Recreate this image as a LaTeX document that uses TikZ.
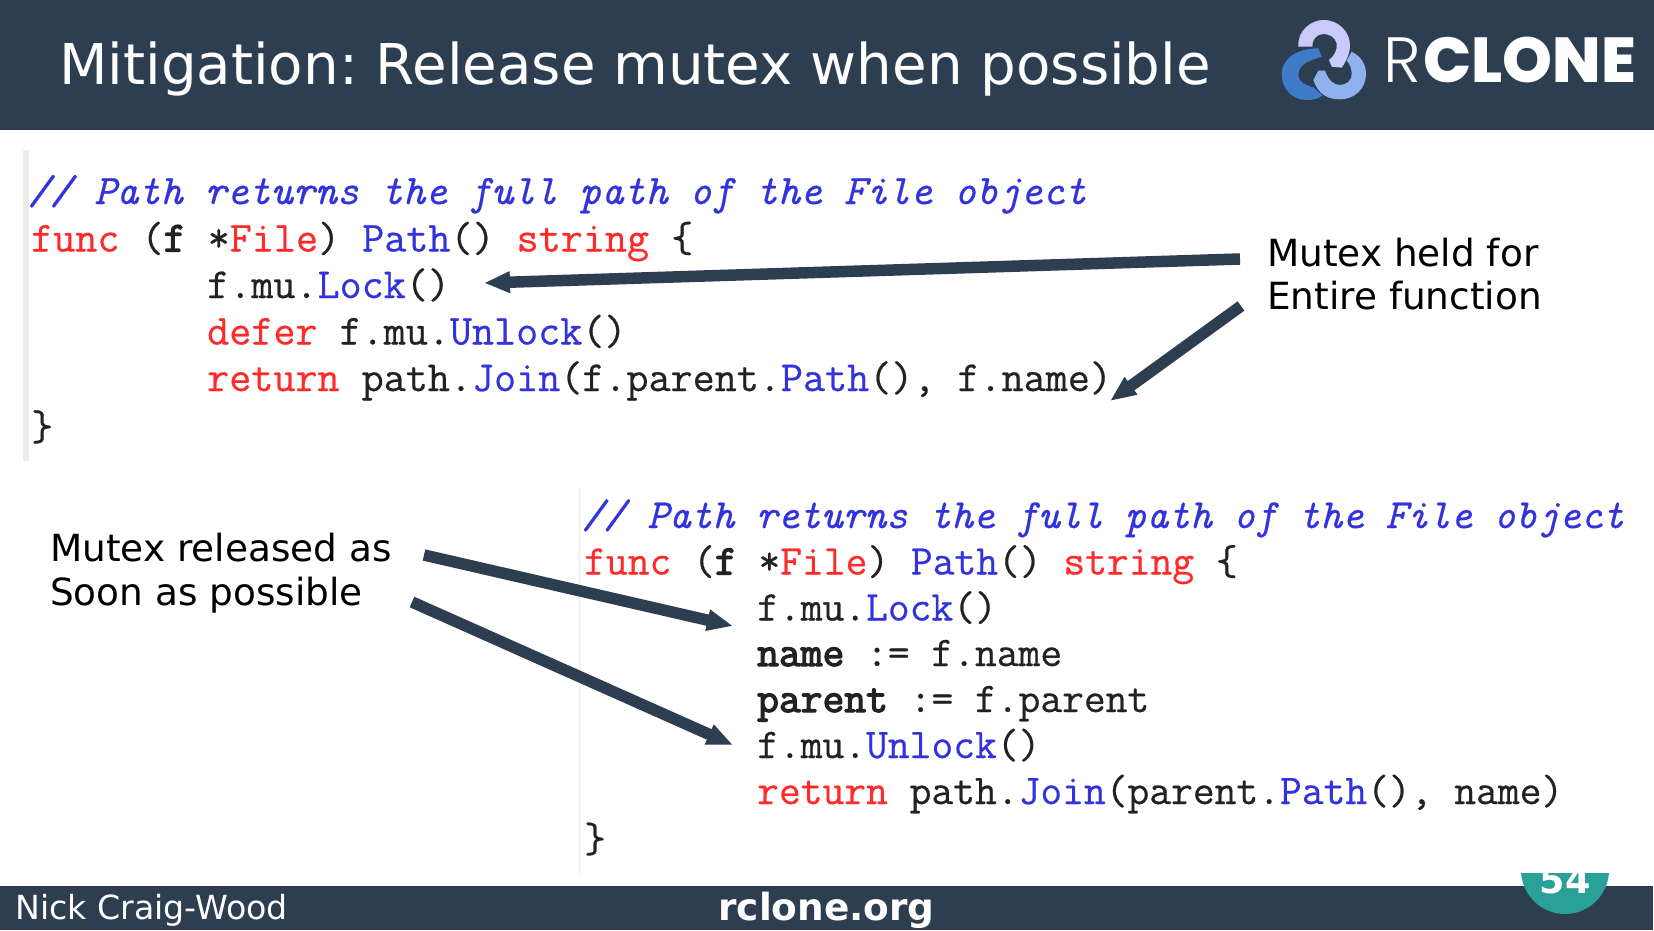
\documentclass[tikz,border=0pt]{standalone}
\usepackage{fontspec}
\usetikzlibrary{arrows.meta}
\frenchspacing
\setmainfont{DejaVu Sans}
\newfontfamily\logolight{Poppins Light}
\newfontfamily\logoheavy{Poppins ExtraBold}
\newfontfamily\codefont{Latin Modern Mono}[UprightFeatures={FakeBold=0.5},BoldFont={Latin Modern Mono},BoldFeatures={FakeBold=3},ItalicFeatures={FakeBold=0.5}]
\definecolor{barcol}{HTML}{2C3E50}
\definecolor{tealcol}{HTML}{2AA198}
\definecolor{kwred}{HTML}{FF2A2A}
\definecolor{kwblue}{HTML}{3333DD}
\definecolor{codeink}{HTML}{222222}
\definecolor{gutter}{HTML}{ECECEC}
\definecolor{logoa}{HTML}{C9CAF8}
\definecolor{logob}{HTML}{3F7BC8}
\definecolor{logoc}{HTML}{8FB2EE}
\tikzset{
 bar/.style={fill=barcol,draw=none},
 lbl/.style={anchor=base west,inner sep=0pt,font=\fontsize{37.4}{37.4}\selectfont,text=black},
 codeA/.style={anchor=base west,inner sep=0pt,font=\codefont\fontsize{42.85}{42.85}\selectfont,text=codeink},
 codeB/.style={anchor=base west,inner sep=0pt,font=\codefont\fontsize{42.3}{42.3}\selectfont,text=codeink},
 noteA/.style={anchor=base west,inner sep=0pt,font=\codefont\itshape\fontsize{42}{42}\selectfont,text=kwblue},
 noteB/.style={anchor=base west,inner sep=0pt,font=\codefont\itshape\fontsize{41.35}{41.35}\selectfont,text=kwblue},
 callout/.style={draw=barcol,line width=11.5pt,-{Triangle[length=26pt,width=20pt]}},
}
\newcommand{\kr}[1]{\textcolor{kwred}{#1}}
\newcommand{\kb}[1]{\textcolor{kwblue}{#1}}
\begin{document}
\begin{tikzpicture}[x=1pt,y=-1pt]
\useasboundingbox (0,0) rectangle (1654,931);
\fill[white] (0,0) rectangle (1654,931);
\fill[bar] (0,0) rectangle (1654,130);
\fill[bar] (0,886) rectangle (1653,930);
\node[anchor=base west,inner sep=0pt,text=white,font=\fontsize{56.25}{56.25}\selectfont] (title) at (59,85) {Mitigation: Release mutex when possible};
% logo
\begin{scope}[shift={(1240,0)},x=0.3333pt,y=-0.3333pt]
\fill[logoa] (175,140) .. controls (172,90) and (215,60) .. (250,60) .. controls (300,60) and (330,100) .. (330,135) .. controls (330,160) and (318,185) .. (305,203) -- (275,200) -- (267,180) .. controls (285,165) and (292,150) .. (290,130) .. controls (285,110) and (265,102) .. (250,102) .. controls (230,102) and (215,120) .. (217,140) -- cycle;
\fill[logob] (235,145) -- (245,170) .. controls (215,180) and (175,190) .. (175,225) .. controls (175,245) and (195,255) .. (220,262) -- (248,287) .. controls (230,300) and (210,300) .. (200,300) .. controls (155,300) and (125,265) .. (125,222) .. controls (125,180) and (165,145) .. (235,145) -- cycle;
\fill[logoc] (335,155) .. controls (365,170) and (378,195) .. (378,222) .. controls (378,265) and (345,298) .. (300,298) .. controls (265,298) and (235,285) .. (220,240) -- (235,212) -- (255,212) .. controls (265,240) and (280,255) .. (300,255) .. controls (320,255) and (337,240) .. (335,220) .. controls (335,205) and (328,190) .. (320,182) -- cycle;
\end{scope}
\node[anchor=base west,inner sep=0pt,text=white,font=\logolight\fontsize{64}{64}\selectfont] (logor) at (1383,82.5) {R};
\node[anchor=base west,inner sep=0pt,text=white,font=\logoheavy\fontsize{63.5}{63.5}\selectfont] (logoc) at (1423,82.5) {CLONE};
% gutters
\fill[gutter] (23,150) rectangle (29,461);
\fill[gutter!60] (578,488) rectangle (581,873);
% code 1
\node[noteA] (a1) at (28,204) {// Path returns the full path of the File object};
\node[codeA] (a2) at (31,251.5) {\kr{func} (\textbf{f} *\kr{File}) \kb{Path}() \kr{string} \{};
\node[codeA] (a3) at (207,298) {f.mu.\kb{Lock}()};
\node[codeA] (a4) at (207,344.5) {\kr{defer} f.mu.\kb{Unlock}()};
\node[codeA] (a5) at (207,391) {\kr{return} path.\kb{Join}(f.parent.\kb{Path}(), f.name)};
\node[codeA] (a6) at (31,440) {\}};
% code 2
\node[noteB] (b1) at (582,528) {// Path returns the full path of the File object};
\node[codeB] (b2) at (584,574.5) {\kr{func} (\textbf{f} *\kr{File}) \kb{Path}() \kr{string} \{};
\node[codeB] (b3) at (757,620.5) {f.mu.\kb{Lock}()};
\node[codeB] (b4) at (757,666) {\textbf{name} := f.name};
\node[codeB] (b5) at (757,712) {\textbf{parent} := f.parent};
\node[codeB] (b6) at (757,758) {f.mu.\kb{Unlock}()};
\node[codeB] (b7) at (757,804) {\kr{return} path.\kb{Join}(parent.\kb{Path}(), name)};
\node[codeB] (b8) at (584,852) {\}};
% labels
\node[lbl] (held1) at (1267,266) {Mutex held for};
\node[lbl] (held2) at (1267,309) {Entire function};
\node[lbl] (rel1) at (50,561) {Mutex released as};
\node[lbl] (rel2) at (50,605) {Soon as possible};
% connectors
\coordinate (h1s) at (1240,259);
\coordinate (h1e) at (484,283);
\coordinate (h2s) at (1241,306);
\coordinate (h2e) at (1110,401);
\coordinate (r1s) at (424,555);
\coordinate (r1e) at (733,626);
\coordinate (r2s) at (412,602);
\coordinate (r2e) at (733,745);
\draw[callout] (h1s) -- (h1e);
\draw[callout] (h2s) -- (h2e);
\draw[callout] (r1s) -- (r1e);
\draw[callout] (r2s) -- (r2e);
% footer
\node[anchor=base west,inner sep=0pt,text=white,font=\fontsize{33.2}{33.2}\selectfont] (author) at (15,919) {Nick Craig-Wood};
\node[anchor=base,inner sep=0pt,text=white,font=\bfseries\fontsize{37.4}{37.4}\selectfont] (site) at (826.5,920) {rclone.org};
\begin{scope}
\clip (1500,873) rectangle (1630,931);
\fill[tealcol] (1565,870) circle[radius=44];
\node[anchor=base,inner sep=0pt,text=white,font=\bfseries\fontsize{36.5}{36.5}\selectfont] (num) at (1565,893) {54};
\end{scope}
\end{tikzpicture}
\end{document}
